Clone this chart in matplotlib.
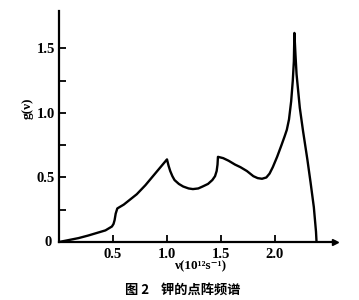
import matplotlib.pyplot as plt
import numpy as np

# frequency (10^12 s^-1) and g(nu)
nu = [0, 0.09, 0.18, 0.27, 0.35, 0.43, 0.49, 0.505, 0.515, 0.525, 0.54, 0.6,
      0.66, 0.72, 0.80, 0.87, 0.93, 0.99, 1.0, 1.015, 1.03, 1.05, 1.07, 1.11,
      1.15, 1.20, 1.24, 1.29, 1.33, 1.38, 1.42, 1.445, 1.46, 1.468, 1.472,
      1.52, 1.57, 1.63, 1.68, 1.74, 1.80, 1.84, 1.88, 1.92, 1.95, 1.98, 2.02,
      2.06, 2.09, 2.11, 2.13, 2.15, 2.165, 2.175, 2.18, 2.19, 2.20, 2.23,
      2.26, 2.30, 2.33, 2.36, 2.38, 2.385]
g = [0, 0.015, 0.03, 0.05, 0.07, 0.09, 0.12, 0.14, 0.17, 0.22, 0.26, 0.29,
     0.33, 0.37, 0.44, 0.51, 0.57, 0.63, 0.64, 0.59, 0.55, 0.51, 0.48, 0.45,
     0.43, 0.415, 0.41, 0.415, 0.43, 0.45, 0.48, 0.51, 0.55, 0.60, 0.66,
     0.65, 0.63, 0.60, 0.58, 0.55, 0.51, 0.495, 0.49, 0.50, 0.53, 0.58, 0.66,
     0.75, 0.82, 0.87, 0.95, 1.09, 1.25, 1.40, 1.62, 1.45, 1.30, 1.04,
     0.86, 0.64, 0.46, 0.27, 0.08, 0]

xticks = [0.5, 1.0, 1.5, 2.0]
xlabels = ['0.5', '1.0', '1.5', '2.0']
yticks = [0.5, 1.0, 1.5]
ylabels = ['0.5', '1.0', '1.5']
yminor = [0.25, 0.75, 1.25]

plt.rcParams['font.family'] = ['Liberation Serif', 'Noto Sans CJK SC', 'DejaVu Sans']

fig = plt.figure(figsize=(3.59, 3.0), dpi=100)
ax = fig.add_axes([59/359., 58/300., 276/359., 231/300.])

ax.plot(nu, g, color='black', lw=1.7, solid_joinstyle='round')

ax.set_xlim(0, 2.556)
ax.set_ylim(0, 1.79)
ax.spines['top'].set_visible(False)
ax.spines['right'].set_visible(False)
ax.spines['left'].set_linewidth(1.6)
ax.spines['bottom'].set_linewidth(1.6)
# arrow head on the frequency axis
ax.plot(1, 0, '>', color='black', ms=4, transform=ax.transAxes, clip_on=False)

ax.set_xticks(xticks)
ax.set_xticklabels(xlabels, fontsize=10.5, fontweight='bold')
ax.set_yticks(yticks)
ax.set_yticklabels(ylabels, fontsize=10.5, fontweight='bold')
ax.set_yticks(yminor, minor=True)
ax.tick_params(axis='both', which='both', direction='in', width=1.3)
ax.tick_params(axis='x', length=5, pad=4)
ax.tick_params(axis='y', which='major', length=5, pad=3)
ax.tick_params(axis='y', which='minor', length=5)
ax.text(-0.025, 0, '0', transform=ax.transAxes, ha='right', va='center',
        fontsize=10.5, fontweight='bold')

fig.text(28/359., 1 - 108/300., 'g(ν)', rotation=90, ha='center', va='center',
         fontsize=9.5, fontweight='bold')
fig.text(201/359., 1 - 266/300., 'ν(10¹²s⁻¹)', ha='center', va='center',
         fontsize=9.5, fontweight='bold')
fig.text(183/359., 1 - 290/300., '图 2    钾的点阵频谱', ha='center', va='center',
         fontsize=9.5, fontweight='bold', family=['Noto Sans CJK SC', 'DejaVu Sans'])

fig.savefig('out.png', dpi=100)
